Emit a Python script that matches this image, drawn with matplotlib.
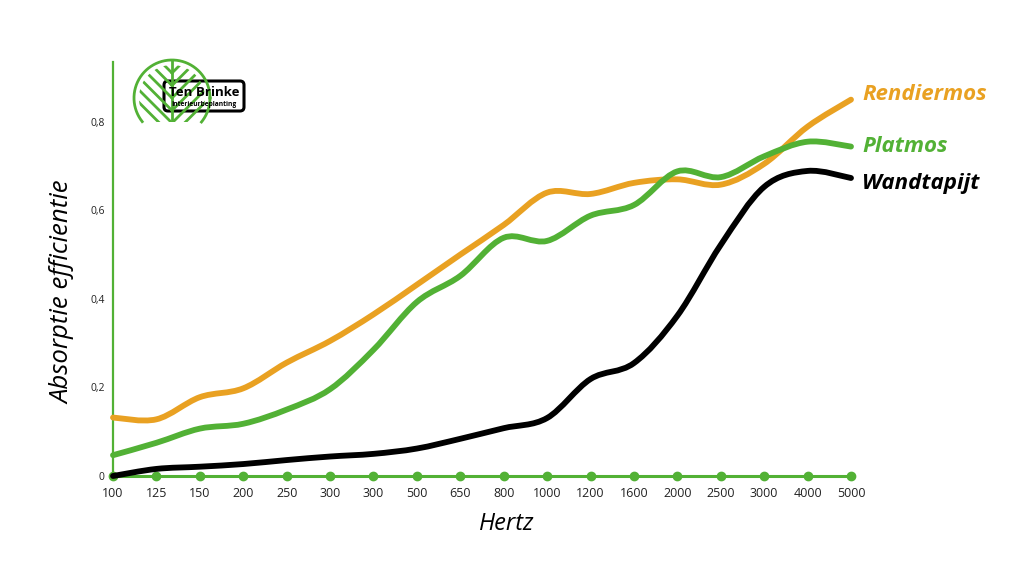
import matplotlib
matplotlib.use("Agg")
import matplotlib.pyplot as plt
import numpy as np
from matplotlib.path import Path
from matplotlib.patches import PathPatch, FancyBboxPatch

GREEN = "#52b135"
ORANGE = "#e9a122"
BLACK = "#000000"

hertz_labels = ["100", "125", "150", "200", "250", "300", "300", "500", "650",
                "800", "1000", "1200", "1600", "2000", "2500", "3000", "4000", "5000"]

rendiermos = [0.132, 0.128, 0.178, 0.198, 0.256, 0.305, 0.365, 0.432, 0.500,
              0.567, 0.640, 0.637, 0.662, 0.670, 0.658, 0.705, 0.789, 0.850]
platmos = [0.047, 0.075, 0.107, 0.118, 0.150, 0.196, 0.285, 0.393, 0.452,
           0.538, 0.531, 0.588, 0.612, 0.688, 0.675, 0.722, 0.755, 0.744]
wandtapijt = [0.000, 0.016, 0.021, 0.027, 0.036, 0.044, 0.050, 0.062, 0.084,
              0.108, 0.131, 0.219, 0.255, 0.362, 0.522, 0.653, 0.689, 0.673]

series_names = ["Rendiermos", "Platmos", "Wandtapijt"]
series_colors = [ORANGE, GREEN, BLACK]

y_ticks = [0, 0.2, 0.4, 0.6, 0.8]
y_ticklabels = ["0", "0,2", "0,4", "0,6", "0,8"]


def smooth_path(xs, ys):
    # Catmull-Rom segments turned into cubic Bezier path pieces
    pts = np.column_stack([xs, ys]).astype(float)
    n = len(pts)
    verts = [pts[0]]
    codes = [Path.MOVETO]
    for i in range(n - 1):
        p0 = pts[i - 1] if i > 0 else pts[i]
        p1 = pts[i]
        p2 = pts[i + 1]
        p3 = pts[i + 2] if i + 2 < n else pts[i + 1]
        verts += [p1 + (p2 - p0) / 6, p2 - (p3 - p1) / 6, p2]
        codes += [Path.CURVE4] * 3
    return Path(verts, codes)


fig = plt.figure(figsize=(10.24, 5.8), dpi=100)
ax = fig.add_axes([113 / 1024, 1 - 476 / 580, (851 - 113) / 1024, (476 - 62) / 580])
ax.set_xlim(0, len(hertz_labels) - 1)
ax.set_ylim(0, 0.935)

x = np.arange(len(hertz_labels))
for vals, color, z in [(rendiermos, ORANGE, 3), (platmos, GREEN, 4), (wandtapijt, BLACK, 5)]:
    patch = PathPatch(smooth_path(x, vals), facecolor="none", edgecolor=color,
                      lw=4.2, capstyle="round", joinstyle="round", zorder=z, clip_on=False)
    ax.add_patch(patch)

for spine in ["top", "right"]:
    ax.spines[spine].set_visible(False)
ax.spines["left"].set_color(GREEN)
ax.spines["left"].set_linewidth(1.6)
ax.spines["bottom"].set_color(GREEN)
ax.spines["bottom"].set_linewidth(2.2)
ax.plot(x, np.zeros(len(x)), "o", color=GREEN, ms=6, clip_on=False, zorder=2)

ax.set_xticks(x)
ax.set_xticklabels(hertz_labels, fontsize=9, family="Open Sans", color="#222222")
ax.set_yticks(y_ticks)
ax.set_yticklabels(y_ticklabels, fontsize=7.5, family="Open Sans", color="#222222")
ax.tick_params(axis="both", length=0)
ax.tick_params(axis="x", pad=8)
ax.tick_params(axis="y", pad=6)

fig.text(507 / 1024, 1 - 524 / 580, "Hertz", ha="center", va="center",
         fontsize=17, style="italic", family="Open Sans")
fig.text(63 / 1024, 1 - 292 / 580, "Absorptie efficientie", ha="center", va="center",
         rotation=90, fontsize=18.5, style="italic", family="Open Sans")

label_y = [94, 147, 183]
for name, color, yp in zip(series_names, series_colors, label_y):
    fig.text(862 / 1024, 1 - yp / 580, name, ha="left", va="center", color=color,
             fontsize=16, style="italic", weight="bold", family="Open Sans")

# logo drawn in pixel coordinates
lax = fig.add_axes([0, 0, 1, 1], zorder=10)
lax.set_xlim(0, 1024)
lax.set_ylim(580, 0)
lax.axis("off")
cx, cy, r, cut = 172, 98, 38, 122
theta = np.linspace(0, 2 * np.pi, 240)
outline = np.column_stack([cx + r * np.cos(theta), np.minimum(cy + r * np.sin(theta), cut)])
logo_clip = Path(outline, closed=True)
inner = r - 5
for k in range(-6, 8):
    y0 = cy + k * 12.5
    for side in (-1, 1):
        ln, = lax.plot([cx, cx + side * 45], [y0, y0 - 45], color=GREEN, lw=2)
        ln.set_clip_path(Path(np.column_stack([cx + inner * np.cos(theta),
                                               np.minimum(cy + inner * np.sin(theta), cut)]),
                              closed=True), lax.transData)
mid, = lax.plot([cx, cx], [cy - r, cut], color=GREEN, lw=2)
mid.set_clip_path(logo_clip, lax.transData)
arc_t = np.linspace(0, 2 * np.pi, 240)
arc_x = cx + r * np.cos(arc_t)
arc_y = cy + r * np.sin(arc_t)
keep = arc_y <= cut
arc_x = np.where(keep, arc_x, np.nan)
lax.plot(arc_x, arc_y, color=GREEN, lw=2)
box = FancyBboxPatch((164, 81), 80, 30, boxstyle="round,pad=0,rounding_size=4",
                     facecolor="white", edgecolor=BLACK, lw=2.2)
lax.add_patch(box)
lax.text(204, 92, "Ten Brinke", ha="center", va="center", fontsize=9.5,
         weight="bold", family="Open Sans")
lax.text(204, 104, "Interieurbeplanting", ha="center", va="center", fontsize=4.8,
         weight="bold", family="Open Sans")

fig.savefig("out.png", dpi=100)
